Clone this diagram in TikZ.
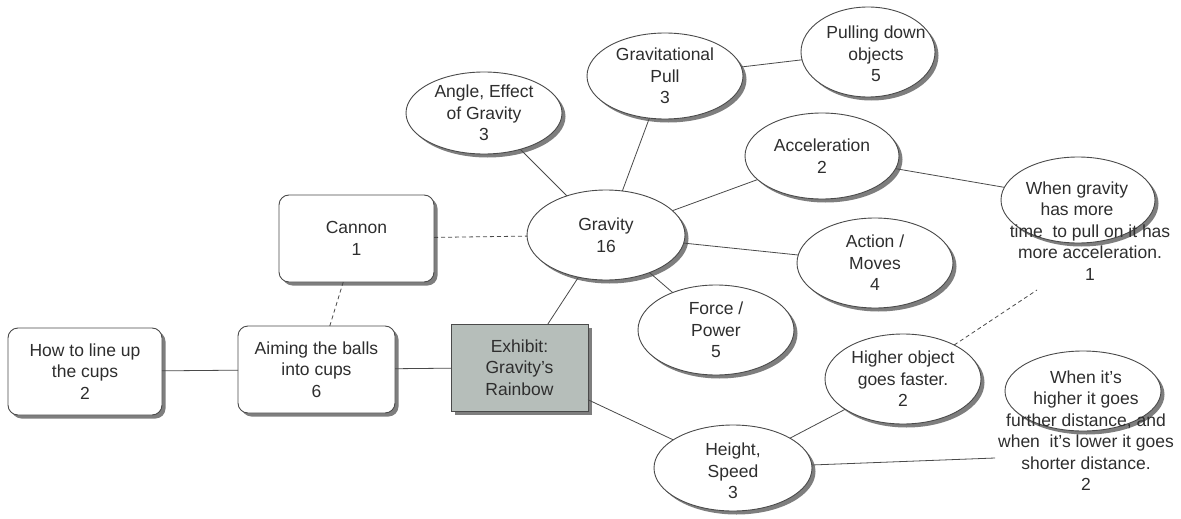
\documentclass[tikz,border=0pt]{standalone}
\usepackage{fontspec}
\setmainfont{Liberation Sans}
\usetikzlibrary{shapes.geometric,shadows}
\definecolor{ink}{HTML}{2E2E2E}
\definecolor{edge}{HTML}{4A4A4A}
\definecolor{exfill}{HTML}{B6BEBA}
\definecolor{shade}{HTML}{7E7E7E}
\begin{document}
\begin{tikzpicture}[x=1pt,y=-1pt,
  every node/.style={font=\fontsize{17.5}{21.5}\selectfont, text=ink},
  base/.style={draw=edge, line width=0.9pt, fill=white, inner sep=0pt, outer sep=0pt,
    drop shadow={shadow xshift=3.5pt, shadow yshift=-3.5pt, fill=shade, opacity=1}},
  rbox/.style={base, rectangle, rounded corners=10pt, align=center},
  ell/.style={base, ellipse},
  lbl/.style={align=center, inner sep=0pt},
  link/.style={draw=edge, line width=0.8pt},
  dlink/.style={link, dash pattern=on 4pt off 3pt}]
\fill[white] (0,0) rectangle (1181,519);
\useasboundingbox (0,0) rectangle (1181,519);

% boxes
\node[rbox, minimum width=154pt, minimum height=87pt] (how) at (85,371.5) {How to line up\\the cups\\2};
\node[rbox, minimum width=157pt, minimum height=87pt] (aim) at (316.5,369.5) {Aiming the balls\\into cups\\6};
\node[rbox, minimum width=155pt, minimum height=87pt] (cannon) at (356.5,238.5) {Cannon\\1};
\node[base, rectangle, fill=exfill, align=center, minimum width=137pt, minimum height=87pt] (ex) at (519.5,367.5) {Exhibit:\\Gravity's\\Rainbow};

% ellipses
\node[ell, minimum width=158pt, minimum height=90pt, label={[lbl]center:{Gravity\\16}}] (grav) at (606,235) {};
\node[ell, minimum width=156pt, minimum height=82pt, label={[lbl]center:{Angle, Effect\\of Gravity\\3}}] (angle) at (484,113) {};
\node[ell, minimum width=156pt, minimum height=86pt, label={[lbl]center:{Gravitational\\Pull\\3}}] (gp) at (665,76) {};
\node[ell, minimum width=134pt, minimum height=90pt, label={[lbl,xshift=8pt,yshift=-2pt]center:{Pulling down\\objects\\5}}] (pull) at (868,52) {};
\node[ell, minimum width=154pt, minimum height=86pt, label={[lbl]center:{Acceleration\\2}}] (acc) at (822,156) {};
\node[ell, minimum width=154pt, minimum height=86pt, label={[lbl,xshift=12pt,yshift=-31pt]center:{When gravity\rule{26pt}{0pt}\\has more\rule{26pt}{0pt}\\time\ \ to pull on it has\\more acceleration.\\1}}] (wg) at (1078,200) {};
\node[ell, minimum width=156pt, minimum height=90pt, label={[lbl]center:{Action /\\Moves\\4}}] (action) at (875,263) {};
\node[ell, minimum width=156pt, minimum height=90pt, label={[lbl]center:{Force /\\Power\\5}}] (force) at (716,330) {};
\node[ell, minimum width=156pt, minimum height=90pt, label={[lbl]center:{Higher object\\goes faster.\\2}}] (higher) at (903,379) {};
\node[ell, minimum width=156pt, minimum height=80pt, label={[lbl,xshift=3pt,yshift=-39.5pt]center:{When it's\\higher it goes\\further distance, and\\when\ \ it's lower it goes\\shorter distance.\\2}}] (wh) at (1083,391) {};
\node[ell, minimum width=158pt, minimum height=86pt, label={[lbl,yshift=-3pt]center:{Height,\\Speed\\3}}] (height) at (733,468) {};

% free ends
\coordinate (wgend) at (1037,290);
\coordinate (whend) at (995,458);

% connectors
\draw[link] (how) -- (aim);
\draw[link] (aim) -- (ex);
\draw[dlink] (cannon) -- (aim);
\draw[dlink] (cannon) -- (grav);
\draw[link] (ex) -- (grav);
\draw[link] (ex) -- (height);
\draw[link] (grav) -- (angle);
\draw[link] (grav) -- (gp);
\draw[link] (gp) -- (pull);
\draw[link] (grav) -- (acc);
\draw[link] (acc) -- (wg);
\draw[link] (grav) -- (action);
\draw[link] (grav) -- (force);
\draw[link] (height) -- (higher);
\draw[dlink] (higher) -- (wgend);
\draw[link] (height) -- (whend);
\end{tikzpicture}
\end{document}
